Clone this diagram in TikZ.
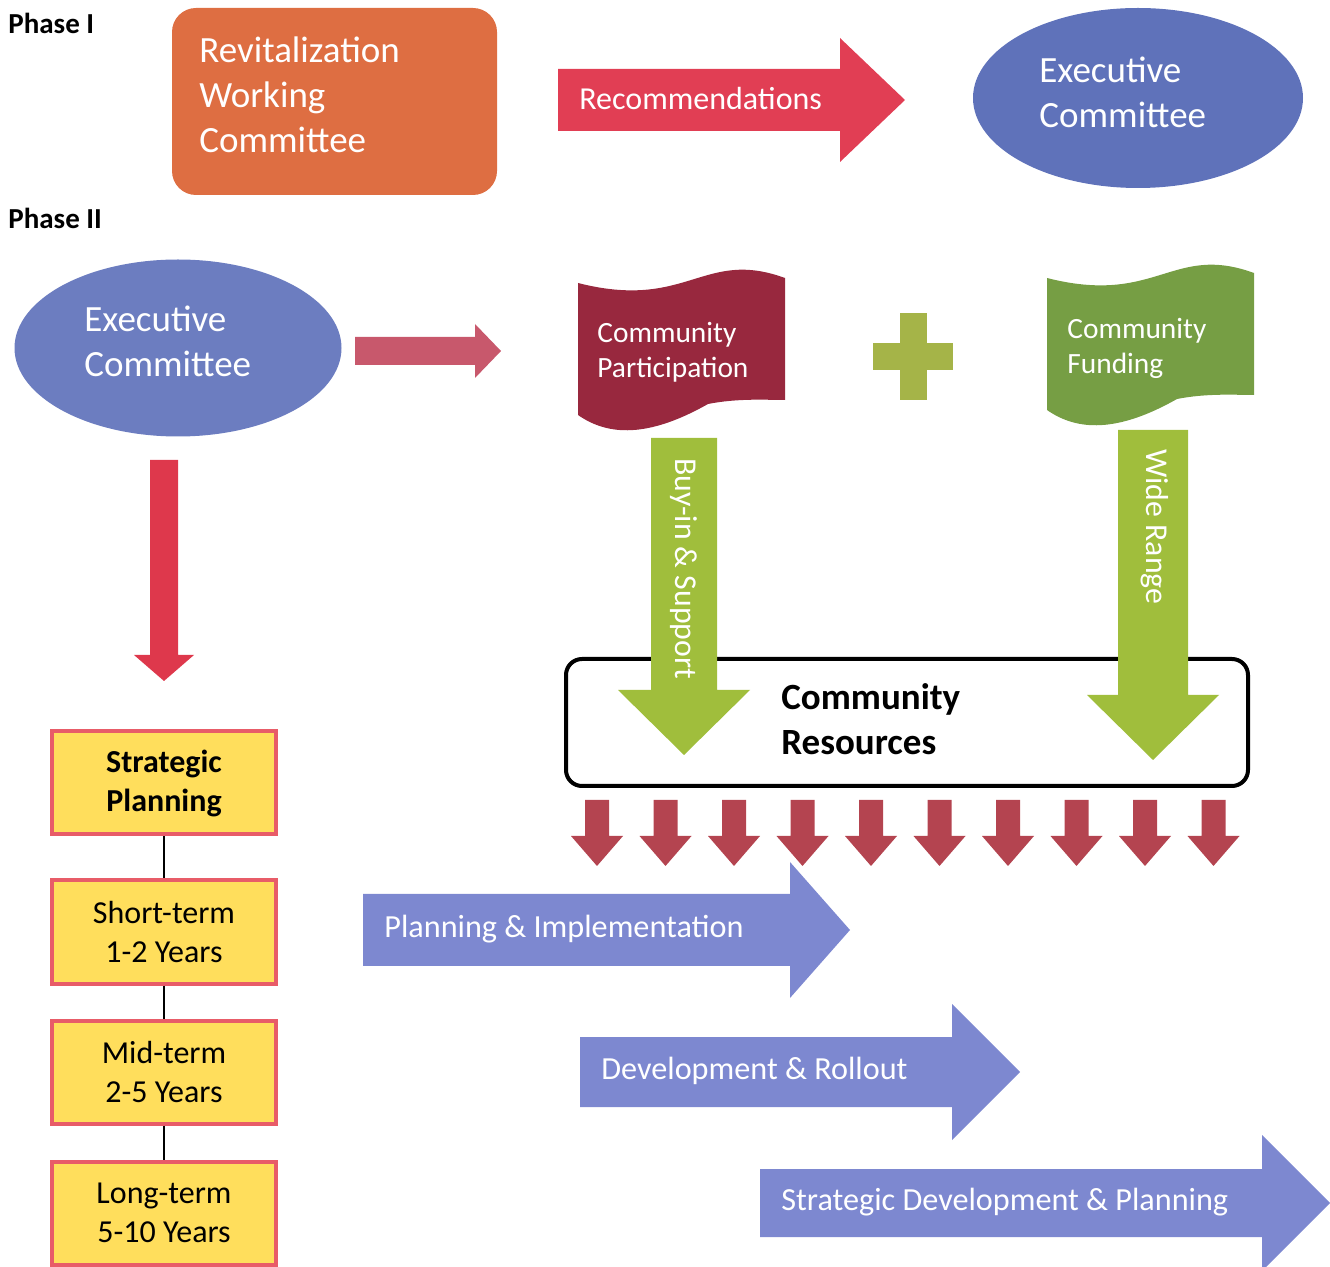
\documentclass[tikz,border=0pt]{standalone}
\usepackage{fontspec}
\setmainfont{Carlito}
\usetikzlibrary{shapes.geometric}

\definecolor{revOrange}{RGB}{222,110,66}
\definecolor{recRed}{RGB}{225,62,84}
\definecolor{execBlue}{RGB}{95,114,186}
\definecolor{roseRed}{RGB}{200,88,108}
\definecolor{downRed}{RGB}{222,56,76}
\definecolor{partMaroon}{RGB}{152,40,62}
\definecolor{plusGreen}{RGB}{165,180,72}
\definecolor{fundGreen}{RGB}{118,158,68}
\definecolor{arrowGreen}{RGB}{160,190,60}
\definecolor{smallRed}{RGB}{180,68,80}
\definecolor{phaseBlue}{RGB}{125,136,208}
\definecolor{boxYellow}{RGB}{255,222,92}
\definecolor{boxRed}{RGB}{232,92,104}

\begin{document}
\begin{tikzpicture}[x=0.5pt,y=-0.5pt,
  bigText/.style={text=white,align=left,anchor=west,inner sep=0pt,font=\fontsize{18.5}{22.5}\selectfont},
  flagText/.style={text=white,align=left,anchor=west,inner sep=0pt,font=\fontsize{14.7}{17.5}\selectfont},
  arrowText/.style={text=white,anchor=west,inner sep=0pt,font=\fontsize{16.1}{19}\selectfont},
  downText/.style={text=white,anchor=west,inner sep=0pt,rotate=-90,font=\fontsize{15.9}{19}\selectfont},
  phaseText/.style={anchor=west,inner sep=0pt,font=\bfseries\fontsize{14.5}{17}\selectfont},
  planBox/.style={draw=boxRed,line width=2pt,fill=boxYellow,minimum width=112pt,minimum height=51.5pt,
    align=center,inner sep=0pt,font=\fontsize{16}{19.5}\selectfont}]
    \newcommand{\rightArrow}[7]{
        \fill[#1] ({#2},{#5-#6}) -- ({#3},{#5-#6}) -- ({#3},{#5-#7}) -- ({#4},{#5})
          -- ({#3},{#5+#7}) -- ({#3},{#5+#6}) -- ({#2},{#5+#6}) -- cycle;
    }
    \newcommand{\downArrow}[7]{
        \fill[#1] ({#2-#3},{#5}) -- ({#2-#3},{#6}) -- ({#2-#4},{#6}) -- ({#2},{#7})
          -- ({#2+#4},{#6}) -- ({#2+#3},{#6}) -- ({#2+#3},{#5}) -- cycle;
    }
    \newcommand{\wavyFlag}[3]{
        \fill[#1,shift={(#2,#3)}] (0,17) .. controls (110,45) and (125,-18) .. (207,12)
          -- (207,134) .. controls (190,134) and (160,132) .. (130,138)
          .. controls (70,172) and (30,170) .. (0,149) -- cycle;
    }
\useasboundingbox (0,0) rectangle (1330,1267);

% Phase I
\node[phaseText] (phaseOne) at (8,23) {Phase I};
\fill[revOrange, rounded corners=12pt] (172,8) rectangle (497,195);
\node[bigText] (revCommittee) at (199,95) {Revitalization\\Working\\Committee};
\rightArrow{recRed}{558}{840}{905}{100}{31}{62}
\node[arrowText, font=\fontsize{16}{19}\selectfont] (recommend) at (579,99) {Recommendations};
\node[ellipse, fill=execBlue, minimum width=165pt, minimum height=90pt, inner sep=0pt] (execOne) at (1138,98) {};
\node[bigText] (execOneText) at (1039,92) {Executive\\Committee};

% Phase II
\node[phaseText] (phaseTwo) at (8,218) {Phase II};
\node[ellipse, fill=execBlue!92!white, minimum width=163.5pt, minimum height=88.5pt, inner sep=0pt] (execTwo) at (178,348) {};
\node[bigText] (execTwoText) at (84,341) {Executive\\Committee};
\rightArrow{roseRed}{355}{475}{501}{351}{14}{27}
\downArrow{downRed}{164}{14}{30}{460}{655}{681}

\wavyFlag{partMaroon}{578}{266}
\node[flagText] (participation) at (597,352) {Community\\Participation};
\fill[plusGreen] (873,343) rectangle (953,370);
\fill[plusGreen] (900,313) rectangle (927,400);
\wavyFlag{fundGreen}{1047}{261}
\node[flagText] (funding) at (1067,348) {Community\\Funding};

\draw[line width=2pt, rounded corners=8pt, fill=white] (566,659) rectangle (1248,786);
\downArrow{arrowGreen}{684}{33}{66}{438}{690}{755}
\downArrow{arrowGreen}{1153}{35}{66}{430}{695}{760}
\node[downText] (buyIn) at (684,458) {Buy-in \& Support};
\node[downText] (wideRange) at (1155,449) {Wide Range};
\node[bigText, text=black, font=\bfseries\fontsize{18.5}{22.5}\selectfont] (resources) at (781,719) {Community\\Resources};
\foreach \i in {0,...,9}{
    \downArrow{smallRed}{597+68.5*\i}{12}{26}{800}{836}{866}
}

\rightArrow{phaseBlue}{363}{790}{850}{930}{36}{68}
\node[arrowText] (planImpl) at (384,929) {Planning \& Implementation};
\rightArrow{phaseBlue}{580}{952}{1020}{1072}{35}{68}
\node[arrowText] (devRollout) at (601,1071) {Development \& Rollout};
\rightArrow{phaseBlue}{760}{1262}{1330}{1203}{34}{68}
\node[arrowText] (stratDev) at (781,1202) {Strategic Development \& Planning};

% planning terms
\node[planBox, font=\bfseries\fontsize{16}{19.5}\selectfont] (stratPlan) at (164,783) {Strategic\\Planning};
\node[planBox] (shortTerm) at (164,932) {Short-term\\1-2 Years};
\node[planBox] (midTerm) at (164,1072) {Mid-term\\2-5 Years};
\node[planBox] (longTerm) at (164,1213) {Long-term\\5-10 Years};
\draw[line width=0.8pt] (stratPlan) -- (shortTerm);
\draw[line width=0.8pt] (shortTerm) -- (midTerm);
\draw[line width=0.8pt] (midTerm) -- (longTerm);

\end{tikzpicture}
\end{document}
